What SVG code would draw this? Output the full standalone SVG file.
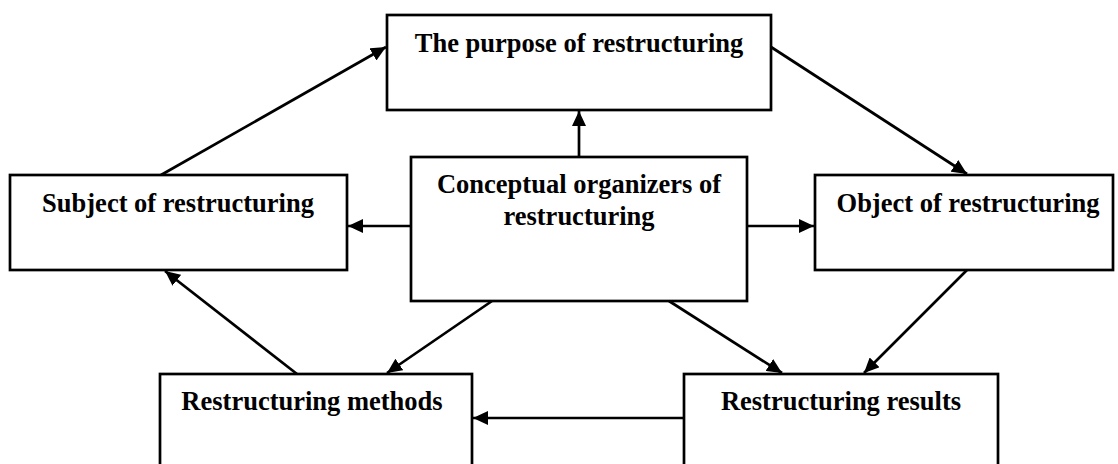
<svg xmlns="http://www.w3.org/2000/svg" width="1118" height="464" viewBox="0 0 1118 464">
<style>
.box{fill:#fff;stroke:#000;stroke-width:2.7}
.lbl{font-family:"Liberation Serif","Times New Roman",serif;font-weight:bold;font-size:26.5px;fill:#000;text-anchor:middle}
.con{stroke:#000;stroke-width:2.7;fill:none;marker-end:url(#ah)}
</style>
<defs>
<marker id="ah" markerUnits="userSpaceOnUse" markerWidth="16" markerHeight="14" refX="15" refY="7" orient="auto" viewBox="0 0 16 14">
<path d="M0,0 L15,7 L0,14 z" fill="#000"/>
</marker>
</defs>
<rect width="1118" height="464" fill="#fff"/>
<g id="connectors">
<line class="con" x1="579" y1="157" x2="579" y2="111"/>
<line class="con" x1="411" y1="226" x2="348" y2="226"/>
<line class="con" x1="747" y1="226" x2="814" y2="226"/>
<line class="con" x1="161" y1="175" x2="386" y2="47"/>
<line class="con" x1="771" y1="47" x2="967" y2="174"/>
<line class="con" x1="967" y1="270" x2="864" y2="373"/>
<line class="con" x1="669" y1="301" x2="782" y2="373"/>
<line class="con" x1="492" y1="301" x2="387" y2="373"/>
<line class="con" x1="684" y1="418" x2="473" y2="418"/>
<line class="con" x1="297" y1="374" x2="165" y2="271"/>
</g>
<g id="purpose">
<rect class="box" x="387" y="15" width="384" height="95"/>
<text class="lbl" x="579" y="52">The purpose of restructuring</text>
</g>
<g id="organizers">
<rect class="box" x="411" y="157" width="336" height="144"/>
<text class="lbl" x="579" y="193">Conceptual organizers of</text>
<text class="lbl" x="579" y="225">restructuring</text>
</g>
<g id="subject">
<rect class="box" x="10" y="175" width="337" height="95"/>
<text class="lbl" x="178" y="212">Subject of restructuring</text>
</g>
<g id="object">
<rect class="box" x="815" y="175" width="298" height="95"/>
<text class="lbl" x="968" y="212">Object of restructuring</text>
</g>
<g id="methods">
<rect class="box" x="160" y="374" width="312" height="110"/>
<text class="lbl" x="312" y="410">Restructuring methods</text>
</g>
<g id="results">
<rect class="box" x="684" y="374" width="314" height="110"/>
<text class="lbl" x="841" y="410">Restructuring results</text>
</g>
</svg>
